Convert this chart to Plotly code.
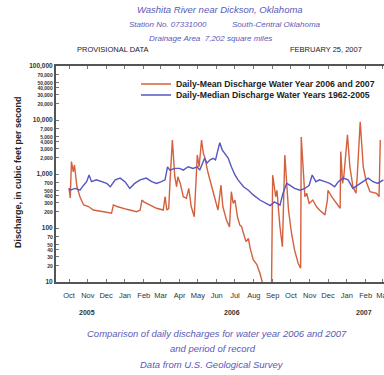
import plotly.graph_objects as go

# Daily-mean discharge, water years 2006-2007 (cfs)
mean_dates = [
    "2005-10-01", "2005-10-03", "2005-10-05", "2005-10-08", "2005-10-10", "2005-10-14",
    "2005-10-19", "2005-10-25", "2005-11-02", "2005-11-10", "2005-11-27", "2005-12-10",
    "2005-12-13", "2005-12-19", "2006-01-04", "2006-01-20", "2006-01-26", "2006-01-29",
    "2006-02-01", "2006-02-11", "2006-02-22", "2006-03-05", "2006-03-08", "2006-03-11",
    "2006-03-14", "2006-03-16", "2006-03-20", "2006-03-24", "2006-03-27", "2006-03-29",
    "2006-04-02", "2006-04-07", "2006-04-12", "2006-04-16", "2006-04-20", "2006-04-25",
    "2006-04-30", "2006-05-03", "2006-05-07", "2006-05-10", "2006-05-12", "2006-05-18",
    "2006-05-24", "2006-05-29", "2006-06-03", "2006-06-08", "2006-06-11", "2006-06-17",
    "2006-06-22", "2006-06-25", "2006-06-28", "2006-07-01", "2006-07-05", "2006-07-09",
    "2006-07-12", "2006-07-15", "2006-07-19", "2006-07-23", "2006-07-26", "2006-07-31",
    "2006-08-06", "2006-08-11", "2006-08-16", "2006-08-22", "2006-08-30", "2006-09-01",
    "2006-09-06", "2006-09-08", "2006-09-13", "2006-09-17", "2006-09-21", "2006-09-24",
    "2006-09-27", "2006-10-02", "2006-10-07", "2006-10-13", "2006-10-17", "2006-10-18",
    "2006-10-24", "2006-10-27", "2006-10-31", "2006-11-06", "2006-11-12", "2006-11-17",
    "2006-11-26", "2006-11-30", "2006-12-01", "2006-12-07", "2006-12-15", "2006-12-21",
    "2006-12-22", "2006-12-25", "2006-12-27", "2007-01-02", "2007-01-06", "2007-01-11",
    "2007-01-16", "2007-01-18", "2007-01-23", "2007-01-28", "2007-02-02", "2007-02-08",
    "2007-02-19", "2007-02-23", "2007-02-25",
]
mean_values = [
    540, 360, 1700, 1100, 1470, 580,
    380, 267, 250, 215, 200, 188,
    267, 250, 222, 200, 215, 330,
    305, 267, 232, 215, 380, 215,
    230, 670, 4250, 890, 580, 890,
    670, 380, 355, 540, 250, 162,
    2250, 1360, 4250, 2400, 2100, 1020,
    580, 330, 215, 620, 250, 140,
    105, 470, 285, 330, 162, 113,
    105, 80, 56, 64, 42, 26,
    21, 14.5, 8, 5, 6, 950,
    380, 500, 105, 45, 2250, 670,
    215, 80, 39, 22, 18, 4850,
    380, 440, 285, 330, 250, 215,
    175, 330, 500, 380, 285, 232,
    2600, 670, 890, 5300, 1360, 580,
    440, 890, 9300, 1360, 720, 470,
    440, 380, 4250,
]

# Daily-median discharge, water years 1962-2005 (cfs)
median_dates = [
    "2005-10-01", "2005-10-03", "2005-10-11", "2005-10-19", "2005-10-25", "2005-10-30",
    "2005-11-03", "2005-11-07", "2005-11-15", "2005-11-24", "2005-12-02", "2005-12-08",
    "2005-12-16", "2005-12-24", "2006-01-01", "2006-01-09", "2006-01-17", "2006-01-26",
    "2006-02-05", "2006-02-14", "2006-02-22", "2006-03-02", "2006-03-08", "2006-03-12",
    "2006-03-16", "2006-03-24", "2006-04-01", "2006-04-07", "2006-04-15", "2006-04-23",
    "2006-04-30", "2006-05-04", "2006-05-09", "2006-05-12", "2006-05-16", "2006-05-21",
    "2006-05-26", "2006-05-30", "2006-06-03", "2006-06-06", "2006-06-10", "2006-06-14",
    "2006-06-20", "2006-06-25", "2006-07-01", "2006-07-06", "2006-07-15", "2006-07-23",
    "2006-07-31", "2006-08-11", "2006-08-22", "2006-08-28", "2006-09-04", "2006-09-13",
    "2006-09-18", "2006-09-24", "2006-09-29", "2006-10-07", "2006-10-16", "2006-10-24",
    "2006-10-31", "2006-11-05", "2006-11-11", "2006-11-17", "2006-11-26", "2006-12-04",
    "2006-12-12", "2006-12-18", "2006-12-26", "2007-01-03", "2007-01-11", "2007-01-19",
    "2007-01-28", "2007-02-05", "2007-02-13", "2007-02-21", "2007-03-02",
]
median_values = [
    540, 500, 540, 500, 620, 720,
    960, 720, 780, 720, 670, 580,
    780, 840, 720, 540, 670, 780,
    840, 720, 670, 720, 780, 1360,
    1180, 1270, 1270, 1180, 1360, 1270,
    1360, 1180, 1590, 1950, 1590, 1830,
    1950, 1830, 2800, 3800, 2800, 2400,
    1950, 1360, 960, 780, 580, 500,
    410, 330, 285, 260, 305, 265,
    440, 670, 620, 540, 500, 540,
    620, 960, 720, 780, 720, 670,
    580, 720, 840, 780, 540, 620,
    720, 840, 720, 670, 780,
]

y_tick_values = [10, 20, 30, 40, 50, 70, 100, 200, 300, 400, 500, 700,
                 1000, 2000, 3000, 4000, 5000, 7000, 10000, 20000, 30000,
                 40000, 50000, 70000, 100000]
major_ticks = [10, 100, 1000, 10000, 100000]

series_names = ["Daily-Mean Discharge Water Year 2006 and 2007",
                "Daily-Median Discharge Water Years 1962-2005"]

RED = "#d4603e"
BLUE = "#5656c4"
TXT_BLUE = "#5a5ab8"
FONT = "Liberation Sans, Arial, sans-serif"

def fmt(v):
    s = f"{v:,}"
    if v in major_ticks:
        return f"<b>{s}</b>"
    return f"<span style='font-size:5px'><b>{s}</b></span>"

def px(x):
    return (x - 56) / 328

def py(y):
    return (282 - y) / 216

fig = go.Figure()
fig.add_trace(go.Scatter(x=mean_dates, y=mean_values, mode="lines",
                         line=dict(color=RED, width=1.4),
                         name=f"<b>{series_names[0]}</b>", legend="legend"))
fig.add_trace(go.Scatter(x=median_dates, y=median_values, mode="lines",
                         line=dict(color=BLUE, width=1.4),
                         name=f"<b>{series_names[1]}</b>", legend="legend2"))

legend_common = dict(xanchor="left", yanchor="middle", bgcolor="rgba(0,0,0,0)",
                     font=dict(size=8.7, color="#222", family=FONT), itemwidth=30,
                     borderwidth=0)

fig.update_layout(
    width=384, height=375,
    margin=dict(l=56, r=0, t=66, b=93, autoexpand=False),
    paper_bgcolor="white", plot_bgcolor="white",
    font=dict(family=FONT, color="#222"),
    showlegend=True,
    legend=dict(x=px(136), y=py(84), **legend_common),
    legend2=dict(x=px(136), y=py(95), **legend_common),
    xaxis=dict(
        type="date", automargin=False,
        range=["2005-09-09 14:00", "2007-03-03 03:00"],
        tick0="2005-10-01", dtick="M1", tickformat="%b",
        ticks="inside", ticklen=3, tickcolor="#777",
        showline=True, linecolor="#555", linewidth=2, mirror="ticks",
        showgrid=False, zeroline=False, ticklabelstandoff=5,
        ticklabeloverflow="allow",
        tickfont=dict(size=7.5, color="#333"),
    ),
    yaxis=dict(
        type="log", range=[1, 5], automargin=False,
        tickvals=y_tick_values, ticktext=[fmt(v) for v in y_tick_values],
        ticks="inside", ticklen=3, tickcolor="#777",
        showline=True, linecolor="#555", linewidth=2, mirror=False,
        showgrid=False, zeroline=False,
        tickfont=dict(size=6.5, color="#333"),
    ),
)

annots = [
    ("<i>Washita River near Dickson, Oklahoma</i>", 220, 10, 9.5, TXT_BLUE, "center"),
    ("<i>Station No. 07331000</i>", 127, 24, 8, TXT_BLUE, "left"),
    ("<i>South-Central Oklahoma</i>", 323, 24, 8, TXT_BLUE, "right"),
    ("<i>Drainage Area  7,202 square miles</i>", 210, 38, 8, TXT_BLUE, "center"),
    ("PROVISIONAL DATA", 75, 50, 7.5, "#222", "left"),
    ("FEBRUARY 25, 2007", 364, 50, 7.5, "#222", "right"),
    ("<b>2005</b>", 87, 312, 7, "#333", "center"),
    ("<b>2006</b>", 232, 312, 7, "#333", "center"),
    ("<b>2007</b>", 364, 312, 7, "#333", "center"),
    ("<i>Comparison of daily discharges for water year 2006 and 2007</i>", 217, 333, 9.5, TXT_BLUE, "center"),
    ("<i>and period of record</i>", 213, 348, 9.5, TXT_BLUE, "center"),
    ("<i>Data from U.S. Geological Survey</i>", 212, 364, 9.5, TXT_BLUE, "center"),
]
for text, x, y, size, color, anchor in annots:
    fig.add_annotation(text=text, x=px(x), y=py(y), xref="paper", yref="paper",
                       xanchor=anchor, yanchor="middle", showarrow=False,
                       font=dict(size=size, color=color, family=FONT))

fig.add_annotation(text="<b>Discharge, in cubic feet per second</b>", x=px(18), y=py(172),
                   xref="paper", yref="paper", textangle=-90, showarrow=False,
                   xanchor="center", yanchor="middle",
                   font=dict(size=9, color="#222", family=FONT))

fig.write_html("out.html", config={"displayModeBar": False})

# remove the default page margin so the figure sits at the window's top-left
with open("out.html", "r", encoding="utf-8") as f:
    html = f.read()
html = html.replace("<head>", "<head><style>html,body{margin:0;padding:0;overflow:hidden;}</style>", 1)
with open("out.html", "w", encoding="utf-8") as f:
    f.write(html)
